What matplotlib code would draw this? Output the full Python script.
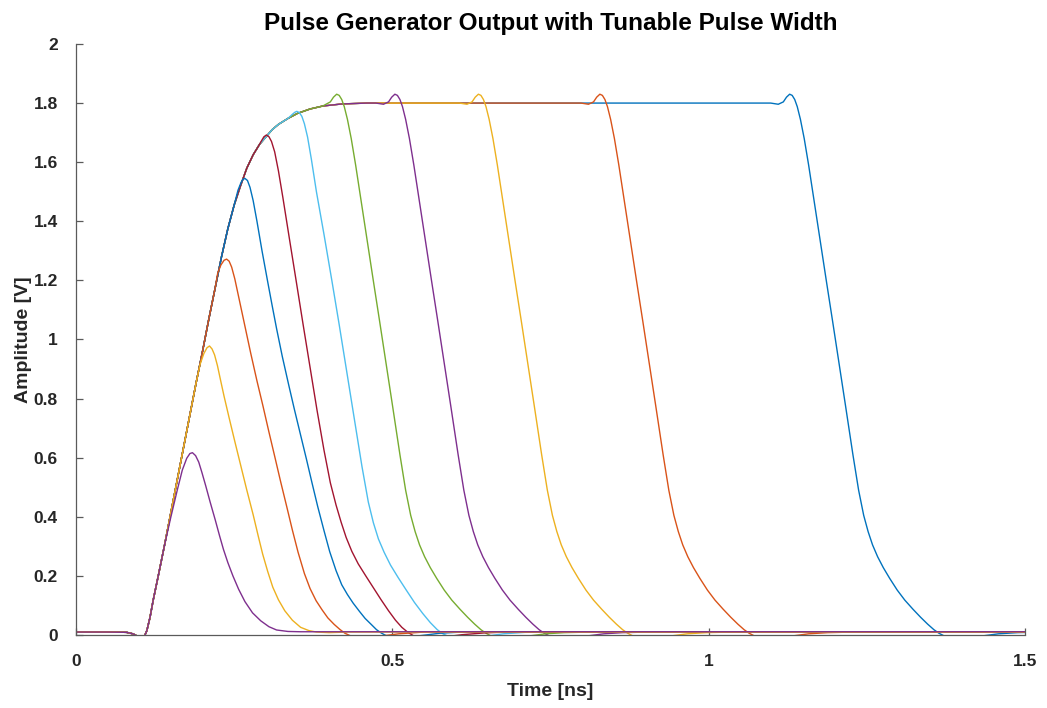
import numpy as np
import matplotlib
matplotlib.use("Agg")
import matplotlib.pyplot as plt

# ---- shared rising edge ----
RISE_T = [0.000, 0.050, 0.080, 0.090, 0.097, 0.103, 0.108, 0.112, 0.117, 0.122, 0.130, 0.140,
          0.150, 0.160, 0.170, 0.180, 0.190, 0.200, 0.210, 0.220, 0.230, 0.240, 0.250, 0.260,
          0.270, 0.280, 0.290, 0.300, 0.310, 0.320, 0.335, 0.350, 0.370, 0.390, 0.420, 0.460]
RISE_V = [0.010, 0.010, 0.009, 0.004, -0.004, -0.010, -0.005, 0.015, 0.060, 0.118, 0.200, 0.305,
          0.415, 0.525, 0.635, 0.745, 0.855, 0.960, 1.070, 1.175, 1.280, 1.375, 1.455, 1.520,
          1.580, 1.625, 1.660, 1.685, 1.710, 1.728, 1.748, 1.765, 1.780, 1.790, 1.797, 1.800]

# ---- falling edge of the wide pulses, relative to the overshoot peak ----
LONG_DT = [-0.030, -0.018, -0.010, -0.005, 0.000, 0.004, 0.008, 0.012, 0.017, 0.023, 0.030,
           0.040, 0.050, 0.058, 0.068, 0.078, 0.088, 0.100, 0.109, 0.117, 0.124, 0.131, 0.139,
           0.148, 0.158, 0.170, 0.182, 0.195, 0.207, 0.218, 0.228, 0.236, 0.245, 0.255, 0.268,
           0.285, 0.305, 0.330, 0.360, 0.400]
LONG_V = [1.800, 1.796, 1.804, 1.820, 1.830, 1.826, 1.812, 1.788, 1.745, 1.680, 1.590,
          1.450, 1.310, 1.198, 1.060, 0.920, 0.780, 0.610, 0.490, 0.405, 0.350, 0.305, 0.265,
          0.228, 0.192, 0.152, 0.118, 0.087, 0.060, 0.037, 0.018, 0.006, -0.004, -0.010, -0.012,
          -0.009, -0.003, 0.004, 0.008, 0.010]
LONG_PEAK_T = [1.128, 0.828, 0.636, 0.504, 0.412]     # blue, orange, yellow, purple, green
LONG_JOIN = [-0.030, -0.030, -0.030, -0.030, -0.010]

# ---- narrower pulses ----
CY_T = [0.342, 0.346, 0.349, 0.353, 0.357, 0.361, 0.366, 0.372, 0.380, 0.392, 0.4045, 0.416,
        0.428, 0.440, 0.452, 0.462, 0.470, 0.478, 0.487, 0.497, 0.509, 0.522, 0.535, 0.548,
        0.560, 0.571, 0.580, 0.590, 0.602, 0.620, 0.645, 0.675, 0.710, 0.750]
CY_V = [1.762, 1.769, 1.772, 1.768, 1.755, 1.730, 1.685, 1.610, 1.500, 1.355, 1.198, 1.050,
        0.890, 0.730, 0.570, 0.450, 0.380, 0.325, 0.280, 0.237, 0.195, 0.152, 0.110, 0.073,
        0.042, 0.018, 0.004, -0.006, -0.011, -0.011, -0.005, 0.004, 0.009, 0.010]

MA_T = [0.292, 0.297, 0.301, 0.305, 0.309, 0.314, 0.320, 0.327, 0.337, 0.348, 0.359, 0.370,
        0.381, 0.392, 0.402, 0.411, 0.419, 0.427, 0.436, 0.446, 0.458, 0.470, 0.482, 0.494,
        0.505, 0.515, 0.524, 0.533, 0.545, 0.560, 0.580, 0.610, 0.645, 0.680]
MA_V = [1.668, 1.686, 1.692, 1.686, 1.670, 1.635, 1.570, 1.480, 1.345, 1.198, 1.050, 0.905,
        0.760, 0.625, 0.515, 0.440, 0.382, 0.330, 0.283, 0.241, 0.200, 0.160, 0.120, 0.082,
        0.050, 0.026, 0.010, -0.002, -0.010, -0.011, -0.007, 0.001, 0.007, 0.010]

BS_T = [0.256, 0.261, 0.264, 0.267, 0.271, 0.275, 0.280, 0.286, 0.294, 0.303, 0.310, 0.317,
        0.326, 0.336, 0.345, 0.3546, 0.364, 0.373, 0.382, 0.392, 0.401, 0.411, 0.420, 0.429,
        0.438, 0.448, 0.457, 0.467, 0.475, 0.483, 0.492, 0.505, 0.520, 0.545, 0.575, 0.610]
BS_V = [1.505, 1.532, 1.542, 1.545, 1.538, 1.515, 1.470, 1.400, 1.300, 1.195, 1.115, 1.037,
        0.943, 0.848, 0.765, 0.680, 0.597, 0.515, 0.435, 0.353, 0.282, 0.218, 0.170, 0.137,
        0.108, 0.080, 0.056, 0.035, 0.018, 0.006, -0.004, -0.009, -0.008, -0.002, 0.006, 0.010]

OS_T = [0.224, 0.229, 0.234, 0.238, 0.242, 0.246, 0.251, 0.258, 0.267, 0.276, 0.286, 0.2955,
        0.3046, 0.314, 0.3233, 0.333, 0.342, 0.351, 0.361, 0.370, 0.3795, 0.389, 0.398, 0.408,
        0.417, 0.425, 0.433, 0.445, 0.460, 0.480, 0.510, 0.550]
OS_V = [1.225, 1.252, 1.268, 1.272, 1.265, 1.245, 1.205, 1.135, 1.045, 0.955, 0.860, 0.775,
        0.690, 0.605, 0.520, 0.435, 0.355, 0.280, 0.208, 0.157, 0.116, 0.085, 0.058, 0.036,
        0.019, 0.006, -0.002, -0.007, -0.008, -0.004, 0.004, 0.010]

YS_T = [0.196, 0.202, 0.207, 0.211, 0.215, 0.219, 0.2235, 0.2285, 0.234, 0.242, 0.251, 0.261,
        0.270, 0.280, 0.288, 0.295, 0.303, 0.311, 0.320, 0.330, 0.342, 0.355, 0.368, 0.380,
        0.400, 0.430]
YS_V = [0.915, 0.952, 0.972, 0.978, 0.968, 0.948, 0.912, 0.862, 0.808, 0.735, 0.655, 0.568,
        0.490, 0.407, 0.335, 0.274, 0.215, 0.162, 0.119, 0.082, 0.050, 0.026, 0.015, 0.010,
        0.008, 0.010]

PS_T = [0.150, 0.160, 0.168, 0.175, 0.180, 0.184, 0.189, 0.194, 0.199, 0.205, 0.212, 0.220,
        0.227, 0.233, 0.240, 0.248, 0.257, 0.267, 0.279, 0.292, 0.305, 0.317, 0.335, 0.355, 0.380]
PS_V = [0.400, 0.490, 0.558, 0.598, 0.614, 0.617, 0.607, 0.585, 0.550, 0.505, 0.450, 0.390,
        0.335, 0.290, 0.245, 0.200, 0.155, 0.113, 0.075, 0.048, 0.028, 0.017, 0.012, 0.011, 0.011]

COLORS = ["#0072BD", "#D95319", "#EDB120", "#7E2F8E", "#77AC30", "#4DBEEE", "#A2142F"]
T_END = 1.5

plt.rcParams["font.family"] = ["Liberation Sans", "DejaVu Sans"]

rise_t = np.array(RISE_T)
rise_v = np.array(RISE_V)


def with_rise(t, v):
    t = np.asarray(t, float)
    v = np.asarray(v, float)
    m = rise_t < t[0]
    return (np.concatenate([rise_t[m], t, [T_END]]),
            np.concatenate([rise_v[m], v, [v[-1]]]))


curves = []
ldt = np.array(LONG_DT)
lv = np.array(LONG_V)
for tp, j in zip(LONG_PEAK_T, LONG_JOIN):
    m = ldt >= j
    curves.append(with_rise(tp + ldt[m], lv[m]))
for t, v in [(CY_T, CY_V), (MA_T, MA_V), (BS_T, BS_V), (OS_T, OS_V), (YS_T, YS_V), (PS_T, PS_V)]:
    curves.append(with_rise(t, v))

fig = plt.figure(figsize=(10.47, 7.08), dpi=100)
ax = fig.add_axes([0.0726, 0.1031, 0.9064, 0.8348])

for i, (t, v) in enumerate(curves):
    ax.plot(t, v, color=COLORS[i % len(COLORS)], lw=1.0)

ax.set_xlim(0, 1.5)
ax.set_ylim(0, 2)
ax.set_xticks([0, 0.5, 1, 1.5])
ax.set_xticklabels(["0", "0.5", "1", "1.5"])
yt = np.round(np.arange(0, 2.01, 0.2), 1)
ax.set_yticks(yt)
ax.set_yticklabels([("%g" % y) for y in yt])

for s in ["top", "right"]:
    ax.spines[s].set_visible(False)
for s in ["left", "bottom"]:
    ax.spines[s].set_color("#5a5a5a")
    ax.spines[s].set_linewidth(0.9)
ax.tick_params(direction="in", length=5, width=0.9, color="#5a5a5a",
               labelsize=12.5, labelcolor="#262626")
ax.tick_params(axis="y", pad=13)
ax.tick_params(axis="x", pad=14)
for lab in ax.get_xticklabels() + ax.get_yticklabels():
    lab.set_fontweight("bold")

ax.set_title("Pulse Generator Output with Tunable Pulse Width", fontsize=17.5,
             fontweight="bold", color="black", pad=10)
ax.set_xlabel("Time [ns]", fontsize=14, fontweight="bold", color="#262626", labelpad=10)
ax.set_ylabel("Amplitude [V]", fontsize=14, fontweight="bold", color="#262626", labelpad=1)

fig.savefig("out.png", dpi=100)
